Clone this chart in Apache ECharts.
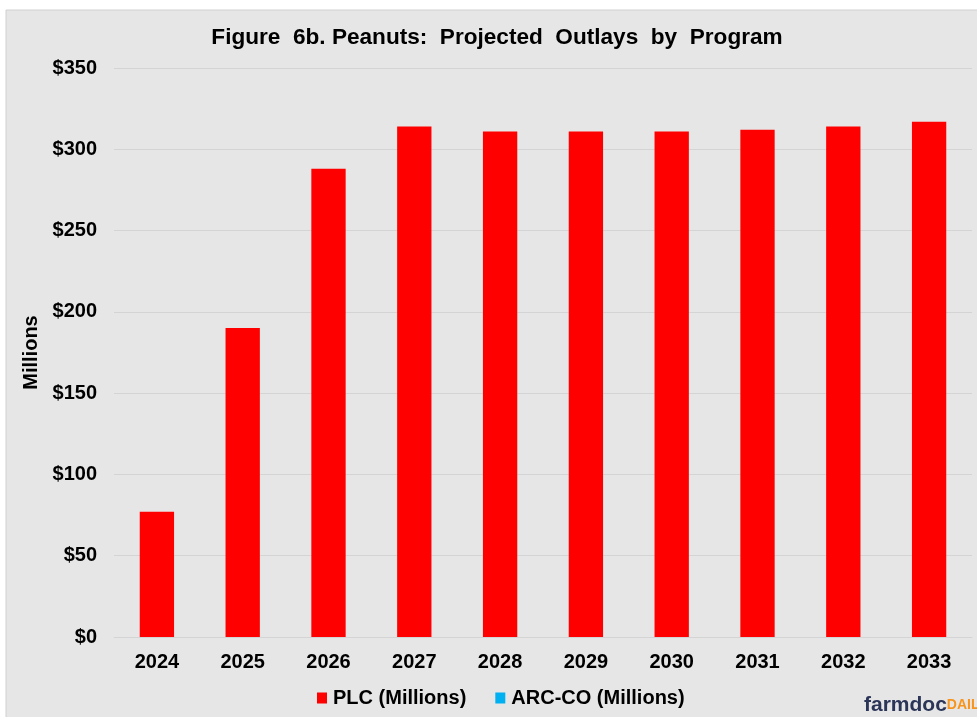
<!DOCTYPE html>
<html>
<head>
<meta charset="utf-8">
<script src="https://cdn.jsdelivr.net/npm/echarts@6/dist/echarts.min.js"></script>
<style>
  html, body { margin: 0; padding: 0; background: #ffffff; }
  #chart { width: 977px; height: 717px; }
</style>
</head>
<body>
<div id="chart"></div>
<script>
// data
const years = ['2024', '2025', '2026', '2027', '2028', '2029', '2030', '2031', '2032', '2033'];
const plcValues = [77, 190, 288, 314, 311, 311, 311, 312, 314, 317];
const arcValues = [0, 0, 0, 0, 0, 0, 0, 0, 0, 0];
const yTicks = [0, 50, 100, 150, 200, 250, 300, 350];

const font = '"Liberation Sans", Arial, sans-serif';

const chart = echarts.init(document.getElementById('chart'));

const option = {
  backgroundColor: '#ffffff',
  textStyle: { fontFamily: font },
  animation: false,
  title: {
    text: 'Figure  6b. Peanuts:  Projected  Outlays  by  Program',
    left: 492,
    textAlign: 'center',
    top: 21,
    textStyle: { fontSize: 22.6, fontWeight: 'bold', color: '#000', fontFamily: font }
  },
  graphic: [
    {
      type: 'rect',
      z: -10,
      shape: { x: 6, y: 10, width: 975, height: 712 },
      style: { fill: '#e6e6e6', stroke: '#d0d0d0', lineWidth: 1 }
    },
    {
      type: 'text',
      left: 864,
      top: 695,
      style: {
        text: '{a|farmdoc}{b|DAILY}',
        rich: {
          a: { fontSize: 21, fontWeight: 'bold', fill: '#2b3557', fontFamily: font },
          b: { fontSize: 14, fontWeight: 'bold', fill: '#f7941d', fontFamily: font }
        }
      }
    }
  ],
  legend: {
    top: 683,
    left: 312,
    itemWidth: 10,
    itemHeight: 11,
    itemGap: 29,
    icon: 'rect',
    textStyle: { fontSize: 20, fontWeight: 'bold', color: '#000', fontFamily: font, padding: [0, 0, 0, 1] },
    data: ['PLC (Millions)', 'ARC-CO (Millions)']
  },
  grid: { left: 114, right: 5, top: 68, bottom: 80 },
  xAxis: {
    type: 'category',
    data: years,
    axisTick: { show: false },
    axisLine: { lineStyle: { color: '#d4d4d4' } },
    axisLabel: { fontSize: 20, fontWeight: 'bold', color: '#000', margin: 15 }
  },
  yAxis: {
    type: 'value',
    min: yTicks[0],
    max: yTicks[yTicks.length - 1],
    interval: 50,
    name: 'Millions',
    nameLocation: 'middle',
    nameGap: 66,
    nameRotate: 90,
    nameTextStyle: { fontSize: 20, fontWeight: 'bold', color: '#000' },
    axisLine: { show: false },
    axisTick: { show: false },
    splitLine: { lineStyle: { color: '#d4d4d4' } },
    axisLabel: {
      fontSize: 20, fontWeight: 'bold', color: '#000', margin: 17,
      formatter: v => '$' + v
    }
  },
  series: [
    {
      name: 'PLC (Millions)',
      type: 'bar',
      stack: 'total',
      barWidth: '40%',
      itemStyle: { color: '#ff0000' },
      data: plcValues
    },
    {
      name: 'ARC-CO (Millions)',
      type: 'bar',
      stack: 'total',
      barWidth: '40%',
      itemStyle: { color: '#00b0f0' },
      data: arcValues
    }
  ]
};

chart.setOption(option);
</script>
</body>
</html>
